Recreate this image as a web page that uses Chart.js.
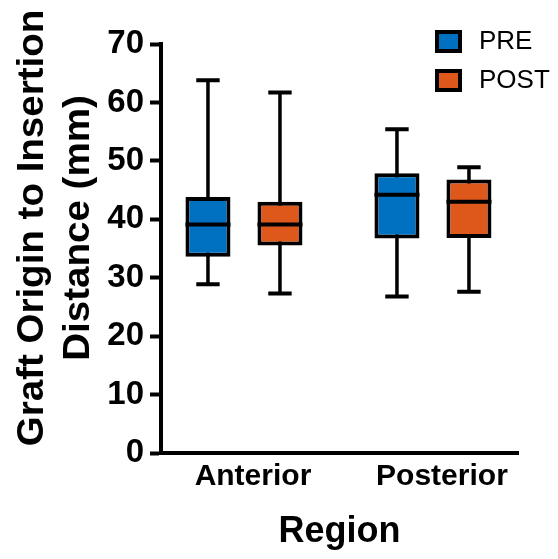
<!DOCTYPE html>
<html>
<head>
<meta charset="utf-8">
<script src="https://cdn.jsdelivr.net/npm/chart.js@4/dist/chart.umd.min.js"></script>
<style>
  html, body { margin: 0; padding: 0; background: #fff; }
  .wrap-chart { width: 558px; height: 559px; }
</style>
</head>
<body>
<div class="wrap-chart"><canvas></canvas></div>
<script>
const regions = ['Anterior', 'Posterior'];
const regionPos = [0, 1];
const seriesNames = ['PRE', 'POST'];

// box plot values per region
const preMin = [28.9, 26.8];
const preQ1 = [33.6, 36.7];
const preMedian = [39.1, 44.2];
const preQ3 = [43.8, 47.9];
const preMax = [63.8, 55.4];

const postMin = [27.3, 27.6];
const postQ1 = [35.5, 36.8];
const postMedian = [39.1, 43.0];
const postQ3 = [43.0, 46.8];
const postMax = [61.7, 48.9];

const yTicks = [0, 10, 20, 30, 40, 50, 60, 70];
const yTitle = ['Graft Origin to Insertion', 'Distance (mm)'];

const stats = [
    { min: preMin, q1: preQ1, med: preMedian, q3: preQ3, max: preMax },
    { min: postMin, q1: postQ1, med: postMedian, q3: postQ3, max: postMax }
];

const FONT = '"Liberation Sans", Arial, sans-serif';

// whiskers, medians, legend and the y title
const boxPlugin = {
    id: 'boxParts',
    beforeDatasetsDraw(chart) {
        const ctx = chart.ctx;
        const y = chart.scales.y;
        ctx.save();
        ctx.strokeStyle = '#000';
        chart.data.datasets.forEach((ds, i) => {
            const s = stats[i];
            chart.getDatasetMeta(i).data.forEach((bar, j) => {
                const cap = bar.width * 0.52;
                const yMax = y.getPixelForValue(s.max[j]);
                const yMin = y.getPixelForValue(s.min[j]);
                ctx.lineWidth = 3.5;
                ctx.beginPath();
                ctx.moveTo(bar.x, yMax);
                ctx.lineTo(bar.x, yMin);
                ctx.stroke();
                ctx.lineWidth = 4;
                ctx.beginPath();
                ctx.moveTo(bar.x - cap / 2, yMax);
                ctx.lineTo(bar.x + cap / 2, yMax);
                ctx.moveTo(bar.x - cap / 2, yMin);
                ctx.lineTo(bar.x + cap / 2, yMin);
                ctx.stroke();
            });
        });
        ctx.restore();
    },
    afterDatasetsDraw(chart) {
        const ctx = chart.ctx;
        const y = chart.scales.y;
        ctx.save();
        ctx.strokeStyle = '#000';
        ctx.lineWidth = 4;
        chart.data.datasets.forEach((ds, i) => {
            const s = stats[i];
            chart.getDatasetMeta(i).data.forEach((bar, j) => {
                const ym = y.getPixelForValue(s.med[j]);
                ctx.beginPath();
                ctx.moveTo(bar.x - bar.width / 2, ym);
                ctx.lineTo(bar.x + bar.width / 2, ym);
                ctx.stroke();
            });
        });

        // legend
        const area = chart.chartArea;
        ctx.font = '26px ' + FONT;
        ctx.textBaseline = 'middle';
        chart.data.datasets.forEach((ds, i) => {
            const bx = area.right - 83;
            const by = area.top - 14 + i * 39;
            ctx.fillStyle = ds.backgroundColor;
            ctx.fillRect(bx, by, 27, 23);
            ctx.lineWidth = 4;
            ctx.strokeStyle = '#000';
            ctx.strokeRect(bx + 2, by + 2, 23, 19);
            ctx.fillStyle = '#000';
            ctx.fillText(ds.label, bx + 44, by + 12);
        });

        // y axis title, two lines, a touch wider like the original
        ctx.font = 'bold 36px ' + FONT;
        ctx.textAlign = 'center';
        ctx.textBaseline = 'alphabetic';
        const baseX = [43, 89];
        yTitle.forEach((line, k) => {
            ctx.save();
            ctx.translate(baseX[k], 228);
            ctx.rotate(-Math.PI / 2);
            ctx.scale(1.07, 1);
            ctx.fillText(line, 0, 0);
            ctx.restore();
        });
        ctx.restore();
    }
};

const barOpts = {
    borderColor: '#000',
    borderWidth: 4,
    borderSkipped: false,
    barPercentage: 0.625,
    categoryPercentage: 0.762
};

const ctx = document.querySelector('.wrap-chart canvas').getContext('2d');
const chart = new Chart(ctx, {
    type: 'bar',
    data: {
        datasets: [{
            label: seriesNames[0],
            data: regionPos.map((p, j) => ({ x: p, y: [preQ1[j], preQ3[j]] })),
            backgroundColor: '#0070C0',
            ...barOpts
        }, {
            label: seriesNames[1],
            data: regionPos.map((p, j) => ({ x: p, y: [postQ1[j], postQ3[j]] })),
            backgroundColor: '#DE581C',
            ...barOpts
        }]
    },
    options: {
        responsive: true,
        maintainAspectRatio: false,
        animation: false,
        layout: { padding: { top: 44, right: 40, left: 0, bottom: 0 } },
        plugins: {
            legend: { display: false },
            tooltip: { enabled: false }
        },
        scales: {
            x: {
                type: 'linear',
                offset: false,
                min: -0.439,
                max: 1.45,
                afterBuildTicks(scale) { scale.ticks = regionPos.map(v => ({ value: v })); },
                border: { display: true, color: '#000', width: 4 },
                grid: { display: false, drawTicks: false },
                ticks: {
                    color: '#000',
                    padding: 6,
                    labelOffset: 9,
                    maxRotation: 0,
                    autoSkip: false,
                    callback: (v) => regions[regionPos.indexOf(v)],
                    font: { family: FONT, size: 30, weight: 'bold' }
                },
                title: {
                    display: true,
                    text: 'Region',
                    color: '#000',
                    padding: { top: 0, bottom: 5 },
                    font: { family: FONT, size: 36, weight: 'bold' }
                },
                afterFit(scale) { scale.height = 106; }
            },
            y: {
                min: 0,
                max: 70,
                afterBuildTicks(scale) { scale.ticks = yTicks.map(v => ({ value: v })); },
                border: { display: true, color: '#000', width: 4 },
                grid: { drawOnChartArea: false, drawTicks: true, tickLength: 11, tickWidth: 4, tickColor: '#000' },
                ticks: {
                    color: '#000',
                    padding: 6,
                    font: { family: FONT, size: 33, weight: 'bold' }
                },
                afterFit(scale) { scale.width = 161; }
            }
        }
    },
    plugins: [boxPlugin]
});
</script>
</body>
</html>
